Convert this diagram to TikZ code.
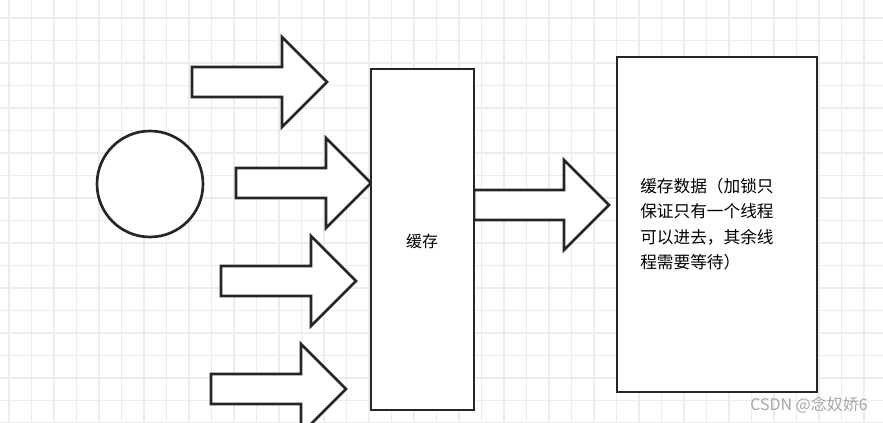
\documentclass[tikz,border=0pt]{standalone}
\usepackage{fontspec}
\setmainfont{Noto Sans CJK SC}
\begin{document}
\begin{tikzpicture}[x=0.75pt,y=-0.75pt,
  shp/.style={draw=black!85,line width=2pt,fill=white},
  grid/.style={draw=black!7,line width=0.8pt}]
\useasboundingbox (0,0) rectangle (883,423);
\clip (0,0) rectangle (883,423);
\foreach \i in {0,...,40} {\draw[grid] ({9+22.5*\i},0) -- ({9+22.5*\i},423);}
\foreach \j in {0,...,19} {\draw[grid] (0,{18+22.5*\j}) -- (883,{18+22.5*\j});}
\node[shp,circle,minimum size=106*0.75pt,inner sep=0] (c) at (150,184) {};
\foreach \n/\x/\y in {a1/192/82,a2/236/183,a3/221/281,a4/211/389,a5/474/205}{
  \draw[shp] (\x,\y-15) -- (\x+90,\y-15) -- (\x+90,\y-45) -- (\x+135,\y) -- (\x+90,\y+45) -- (\x+90,\y+15) -- (\x,\y+15) -- cycle;
  \coordinate (\n) at (\x+135,\y);
}
\draw[shp] (371,69) rectangle (474,410);
\node[font=\fontsize{12}{14}\selectfont] (cache) at (422,241) {缓存};
\draw[shp] (617,57) rectangle (817,392);
\node[anchor=north west,align=left,font=\fontsize{12.5}{19}\selectfont,inner sep=0] (data) at (640,178)
 {缓存数据（加锁只\\保证只有一个线程\\可以进去，其余线\\程需要等待）};
\node[anchor=east,text=black!35,font=\fontsize{12}{14}\selectfont,inner sep=0] (wm) at (868,405) {CSDN @念奴娇6};
\end{tikzpicture}
\end{document}
